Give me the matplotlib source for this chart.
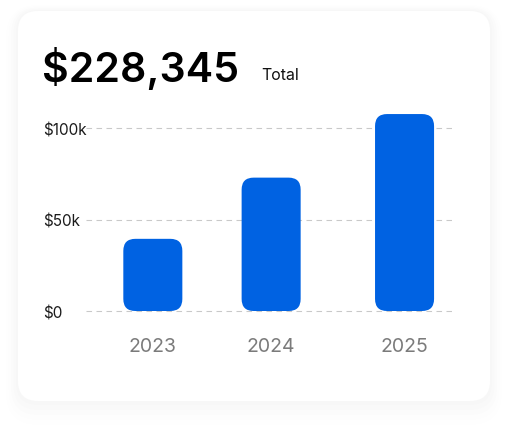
import matplotlib
matplotlib.use("Agg")
import matplotlib.pyplot as plt
from matplotlib.patches import FancyBboxPatch
from matplotlib.ticker import FixedLocator

# ---- data ----
years = ["2023", "2024", "2025"]
revenue = [39500, 73000, 107800]
ytick_values = [0, 50000, 100000]
ytick_labels = ["$0", "$50k", "$100k"]
total_label = "$228,345"
total_caption = "Total"

# ---- layout ----
W, H = 509, 431
DPI = 100
bar_pos = [0, 0.94, 2]
bar_width = 0.469
BLUE = "#0062e2"

plt.rcParams["font.family"] = ["Inter", "DejaVu Sans"]

fig = plt.figure(figsize=(W / DPI, H / DPI), dpi=DPI)
fig.patch.set_facecolor("white")

def px_box(x0, y0, x1, y1):
    return (x0 / W, 1 - y1 / H, (x1 - x0) / W, (y1 - y0) / H)

# card shadow layers (very soft)
for i, a in enumerate([0.004, 0.005, 0.006, 0.007, 0.008]):
    g = 12 - i * 2.5
    l, b, w, h = px_box(18 - g, 12 - g * 0.5, 490 + g, 402 + g * 2.0)
    fig.patches.append(FancyBboxPatch((l, b), w, h,
        boxstyle=f"round,pad=0,rounding_size={(20 + g) / W}",
        mutation_aspect=W / H, transform=fig.transFigure,
        facecolor="black", edgecolor="none", alpha=a, zorder=0))
l, b, w, h = px_box(18, 12, 490, 402)
fig.patches.append(FancyBboxPatch((l, b), w, h,
    boxstyle=f"round,pad=0,rounding_size={20 / W}",
    mutation_aspect=W / H, transform=fig.transFigure,
    facecolor="white", edgecolor="none", zorder=1))

# axes
ymin, ymax = -2000, 110000
zero_px, k_px = 312, 1.827  # pixel of 0 and pixels per $1k
ax_left, ax_right = 86, 452
ax_bottom_px = zero_px - ymin / 1000 * k_px
ax_top_px = zero_px - ymax / 1000 * k_px
ax = fig.add_axes([ax_left / W, 1 - ax_bottom_px / H,
                   (ax_right - ax_left) / W, (ax_bottom_px - ax_top_px) / H])
ax.set_facecolor("none")
ax.set_zorder(2)
ax.set_ylim(ymin, ymax)
ax.set_xlim(-0.531, 2.377)
for s in ax.spines.values():
    s.set_visible(False)

ax.yaxis.set_major_locator(FixedLocator(ytick_values))
ax.set_yticklabels(ytick_labels)
ax.tick_params(axis="y", length=0, pad=30.8, labelsize=11, labelcolor="#1c1c1c")
for t in ax.get_yticklabels():
    t.set_horizontalalignment("left")
    t.set_verticalalignment("center_baseline")

ax.set_xticks(bar_pos)
ax.set_xticklabels(years)
ax.tick_params(axis="x", length=0, pad=16, labelsize=14, labelcolor="#7b7b7b")

ax.grid(axis="y", color="#c9c9c9", linewidth=0.8, linestyle=(0, (5, 4)))
ax.set_axisbelow(True)

# rounded bars
fig.canvas.draw()
bars = ax.bar(bar_pos, revenue, width=bar_width, color=BLUE)
inv = ax.transData.inverted()
p0 = inv.transform((0, 0))
p1 = inv.transform((12, 12))
rx = p1[0] - p0[0]
ry = p1[1] - p0[1]
for r in bars:
    x, y = r.get_x(), r.get_y()
    w_, h_ = r.get_width(), r.get_height()
    r.remove()
    ax.add_patch(FancyBboxPatch((x, y), w_, h_,
        boxstyle=f"round,pad=0,rounding_size={rx}",
        mutation_aspect=ry / rx, facecolor=BLUE, edgecolor="none", zorder=3))

# header texts
fig.text(41.5 / W, 1 - 82 / H, total_label, fontsize=29.6, fontweight="semibold",
         color="black", va="baseline", ha="left")
fig.text(261 / W, 1 - 80 / H, total_caption, fontsize=11.5,
         color="#111111", va="baseline", ha="left")

fig.savefig("out.png", dpi=DPI, facecolor="white")
